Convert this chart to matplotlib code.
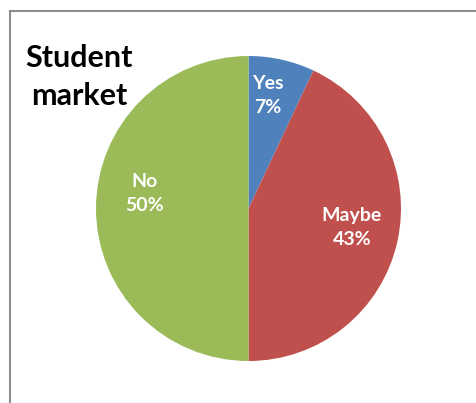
import numpy as np
import matplotlib.pyplot as plt
from matplotlib.lines import Line2D

labels = ['Yes', 'Maybe', 'No']
shares = [7, 43, 50]
colors = ['#4F81BD', '#C0504D', '#9BBB59']

W, H = 476, 403
fig = plt.figure(figsize=(W / 100, H / 100), dpi=100)

# gray chart frame (cut off at right and bottom)
fig.add_artist(Line2D([10 / W, 10 / W], [0, 1 - 11 / H], color='#8c8c8c', lw=1.5))
fig.add_artist(Line2D([10 / W, 1], [1 - 11 / H, 1 - 11 / H], color='#8c8c8c', lw=1.5))

# pie centred at (248.5, 208.5) px, radius 152.5 px
cx, cy, r = 248.5, 208.5, 152.5
ax = fig.add_axes([(cx - r) / W, (H - cy - r) / H, 2 * r / W, 2 * r / H])
wedges, _ = ax.pie(shares, colors=colors, startangle=90, counterclock=False,
                   radius=1, wedgeprops=dict(linewidth=0))
ax.set_xlim(-1, 1)
ax.set_ylim(-1, 1)
ax.set_aspect('equal')
ax.axis('off')

# label placement per slice (distance, angle shift)
place = {'Yes': (0.75, 3), 'Maybe': (0.69, 2), 'No': (0.69, -8)}
for w, lab, s in zip(wedges, labels, shares):
    d, shift = place[lab]
    ang = np.deg2rad((w.theta1 + w.theta2) / 2 + shift)
    ax.text(d * np.cos(ang), d * np.sin(ang), f'{lab}\n{s}%', ha='center', va='center',
            color='white', fontsize=14, fontweight='bold', family='Lato', linespacing=1.5)

fig.text(79 / W, 1 - 77 / H, 'Student\nmarket', ha='center', va='center',
         fontsize=22, fontweight='bold', family='Lato', linespacing=1.4)

fig.savefig('out.png', dpi=100)
